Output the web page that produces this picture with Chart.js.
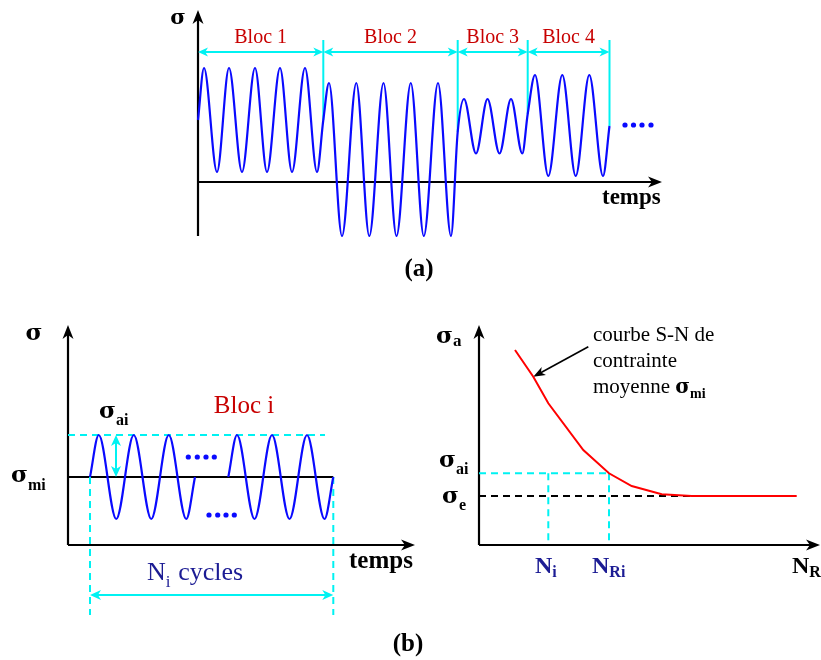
<!DOCTYPE html>
<html><head><meta charset="utf-8">
<script src="https://cdn.jsdelivr.net/npm/chart.js@4"></script>
<style>
html,body{margin:0;padding:0;background:#fff;}
#wrap{position:relative;width:821px;height:660px;overflow:hidden;background:#fff;}
canvas{position:absolute;left:0;top:0;}
</style></head><body>
<div id="wrap">
<canvas id="ca" width="821" height="660"></canvas>
<canvas id="cb" width="821" height="660"></canvas>
<canvas id="cc" width="821" height="660"></canvas>
</div>
<script>
// ---------- Panel (a): block loading (time t from σ axis, stress σ from time axis) ----------
const bloc1Time   = [0, 6, 19, 31, 44, 57, 69, 82, 94, 107, 119];
const bloc1Stress = [62, 114, 10, 114, 10, 114, 10, 114, 10, 114, 10];
const bloc2Time   = [125.3, 131, 144, 158.3, 171.3, 185.5, 198.5, 212.8, 225.8, 240, 253];
const bloc2Stress = [62, 99, -54, 99, -54, 99, -54, 99, -54, 99, -54];
const bloc3Time   = [259.7, 266, 278, 289.5, 301.5, 313, 324.3];
const bloc3Stress = [50, 83, 28.5, 83, 28.5, 83, 28.5];
const bloc4Time   = [329.7, 337, 350.3, 364.3, 377.7, 391.3, 405, 411.5];
const bloc4Stress = [68, 107, 6, 107, 6, 107, 6, 56];
const blocBounds  = [0, 125.3, 259.7, 329.7, 411.5];
const blocBoundStress = [62, 62, 50, 68, 56];
const blocLabels  = ['Bloc 1', 'Bloc 2', 'Bloc 3', 'Bloc 4'];
const moreTime    = [427, 435.5, 444, 453];
const moreStress  = [57, 57, 57, 57];
const axisA = {tMax: 464, sMin: -54, sMax: 172};

// ---------- Panel (b) left: one block i ----------
const blocIPart1Time   = [22, 30.75, 48.25, 65.75, 83.25, 100.75, 118.25, 127];
const blocIPart1Stress = [68, 110, 26, 110, 26, 110, 26, 68];
const blocIPart2Time   = [160.3, 169, 186.5, 204, 221.5, 239, 256.5, 265.3];
const blocIPart2Stress = [68, 110, 26, 110, 26, 110, 26, 68];
const sigmaMi = 68;
const sigmaMaxI = 110;
const dotsUpTime = [120.3, 129.3, 138, 146.3];
const dotsUpStress = [88, 88, 88, 88];
const dotsLowTime = [141, 149.7, 158, 166.3];
const dotsLowStress = [30, 30, 30, 30];
const axisB = {tMax: 347, sMax: 220};

// ---------- Panel (b) right: S-N curve ----------
const snCycles = [36, 54.3, 69.3, 104.3, 130, 152.7, 182.7, 212.7, 317.7];
const snStress = [195, 168.3, 141.7, 95, 71.7, 59, 50.7, 49, 49];
const sigmaE = 49;
const sigmaAi = 71.7;
const cyclesNi = 69.3;
const cyclesNRi = 130;
const axisC = {nMax: 341, sMax: 220};

const BLUE = '#0a0aff', CYAN = '#00f2f2', RED = '#ff0000', DARKRED = '#c80000', NAVY = '#1c1c94';
const SERIF = '"Liberation Serif", "DejaVu Serif", serif';
const GREEK = '"DejaVu Serif", "Liberation Serif", serif';

function zip(a, b) { return a.map((v, i) => ({x: v, y: b[i]})); }

function seg(ctx, x1, y1, x2, y2, color, w, dash) {
  ctx.save(); ctx.strokeStyle = color; ctx.lineWidth = w; ctx.setLineDash(dash || []);
  ctx.beginPath(); ctx.moveTo(x1, y1); ctx.lineTo(x2, y2); ctx.stroke(); ctx.restore();
}
function head(ctx, x, y, ang, len, half, color) {
  ctx.save(); ctx.translate(x, y); ctx.rotate(ang);
  ctx.beginPath(); ctx.moveTo(0, 0); ctx.lineTo(-len, -half); ctx.lineTo(-len * 0.72, 0); ctx.lineTo(-len, half);
  ctx.closePath(); ctx.fillStyle = color; ctx.fill(); ctx.restore();
}
function arrow(ctx, x1, y1, x2, y2, color, w, len, half, both) {
  const a = Math.atan2(y2 - y1, x2 - x1), c = Math.cos(a), s = Math.sin(a);
  const k = len * 0.7;
  seg(ctx, x1 + (both ? c * k : 0), y1 + (both ? s * k : 0), x2 - c * k, y2 - s * k, color, w);
  head(ctx, x2, y2, a, len, half, color);
  if (both) head(ctx, x1, y1, a + Math.PI, len, half, color);
}
function txt(ctx, s, x, y, font, color, align) {
  ctx.save(); ctx.font = font; ctx.fillStyle = color; ctx.textAlign = align || 'left';
  ctx.textBaseline = 'alphabetic'; ctx.fillText(s, x, y); ctx.restore();
}
function subTxt(ctx, main, sub, x, y, fMain, fSub, color, dy) {
  ctx.save(); ctx.font = fMain; const w = ctx.measureText(main).width; ctx.restore();
  txt(ctx, main, x, y, fMain, color); txt(ctx, sub, x + w, y + dy, fSub, color);
}

function baseOptions(pad, xr, yr) {
  return {
    responsive: false, animation: false, events: [],
    layout: {padding: pad},
    plugins: {legend: {display: false}, tooltip: {enabled: false}},
    scales: {
      x: {type: 'linear', min: xr[0], max: xr[1], display: false},
      y: {type: 'linear', min: yr[0], max: yr[1], display: false}
    }
  };
}
function waveDs(data, color) {
  return {data, borderColor: color, borderWidth: 2.2, pointRadius: 0, fill: false,
          cubicInterpolationMode: 'monotone', clip: false};
}
function dotDs(data) {
  return {data, showLine: false, pointRadius: 2.6, pointBackgroundColor: BLUE, pointBorderWidth: 0, clip: false};
}

// ---------- Chart (a) ----------
new Chart(document.getElementById('ca'), {
  type: 'line',
  data: {datasets: [
    waveDs(zip(bloc1Time, bloc1Stress).concat(zip(bloc2Time, bloc2Stress), zip(bloc3Time, bloc3Stress), zip(bloc4Time, bloc4Stress)), BLUE),
    dotDs(zip(moreTime, moreStress))
  ]},
  options: baseOptions({left: 198, top: 10, right: 821 - 662, bottom: 660 - 236}, [0, axisA.tMax], [axisA.sMin, axisA.sMax]),
  plugins: [{
    id: 'decorA',
    beforeDatasetsDraw(chart) {
      const ctx = chart.ctx, X = v => chart.scales.x.getPixelForValue(v), Y = v => chart.scales.y.getPixelForValue(v);
      arrow(ctx, X(0), Y(axisA.sMin), X(0), Y(axisA.sMax), '#000', 2.2, 14, 5.5);
      arrow(ctx, X(0), Y(0), X(axisA.tMax), Y(0), '#000', 2.2, 14, 5.5);
      const topS = 142, arrS = 130;
      for (let i = 1; i < blocBounds.length; i++) {
        seg(ctx, X(blocBounds[i]), Y(topS), X(blocBounds[i]), Y(blocBoundStress[i]), CYAN, 2);
      }
      for (let i = 0; i < blocBounds.length - 1; i++) {
        arrow(ctx, X(blocBounds[i]), Y(arrS), X(blocBounds[i + 1]), Y(arrS), CYAN, 2, 10, 4.5, true);
        txt(ctx, blocLabels[i], (X(blocBounds[i]) + X(blocBounds[i + 1])) / 2, 43, '20px ' + SERIF, DARKRED, 'center');
      }
    },
    afterDraw(chart) {
      const ctx = chart.ctx;
      txt(ctx, 'σ', 178, 24, 'bold 21px ' + GREEK, '#000', 'center');
      txt(ctx, 'temps', 602, 204, 'bold 23px ' + SERIF, '#000');
      txt(ctx, '(a)', 419, 276, 'bold 25px ' + SERIF, '#000', 'center');
    }
  }]
});

// ---------- Chart (b) left ----------
new Chart(document.getElementById('cb'), {
  type: 'line',
  data: {datasets: [
    waveDs(zip(blocIPart1Time, blocIPart1Stress), BLUE),
    waveDs(zip(blocIPart2Time, blocIPart2Stress), BLUE),
    dotDs(zip(dotsUpTime, dotsUpStress)),
    dotDs(zip(dotsLowTime, dotsLowStress))
  ]},
  options: baseOptions({left: 68, top: 325, right: 821 - 415, bottom: 660 - 545}, [0, axisB.tMax], [0, axisB.sMax]),
  plugins: [{
    id: 'decorB',
    beforeDatasetsDraw(chart) {
      const ctx = chart.ctx, X = v => chart.scales.x.getPixelForValue(v), Y = v => chart.scales.y.getPixelForValue(v);
      const t0 = blocIPart1Time[0], t1 = blocIPart2Time[blocIPart2Time.length - 1];
      arrow(ctx, X(0), Y(0), X(0), Y(axisB.sMax), '#000', 2.2, 14, 5.5);
      arrow(ctx, X(0), Y(0), X(axisB.tMax), Y(0), '#000', 2.2, 14, 5.5);
      seg(ctx, X(0), Y(sigmaMi), X(t1), Y(sigmaMi), '#000', 2.2);
      seg(ctx, X(0), Y(sigmaMaxI), X(257), Y(sigmaMaxI), CYAN, 2, [7, 5]);
      seg(ctx, X(t0), Y(sigmaMi), X(t0), Y(-70), CYAN, 2, [7, 5]);
      seg(ctx, X(t1), Y(sigmaMi), X(t1), Y(-70), CYAN, 2, [7, 5]);
      arrow(ctx, X(t0), Y(-50), X(t1), Y(-50), CYAN, 2, 11, 5, true);
      arrow(ctx, X(48), Y(sigmaMi), X(48), Y(sigmaMaxI), CYAN, 2, 11, 5, true);
    },
    afterDraw(chart) {
      const ctx = chart.ctx;
      txt(ctx, 'σ', 34, 340, 'bold 23px ' + GREEK, '#000', 'center');
      subTxt(ctx, 'σ', 'ai', 99, 418, 'bold 23px ' + GREEK, 'bold 16px ' + SERIF, '#000', 7);
      subTxt(ctx, 'σ', 'mi', 11, 482, 'bold 23px ' + GREEK, 'bold 16px ' + SERIF, '#000', 8);
      txt(ctx, 'Bloc i', 244, 413, '25px ' + SERIF, DARKRED, 'center');
      txt(ctx, 'temps', 349, 568, 'bold 25px ' + SERIF, '#000');
      subTxt(ctx, 'N', 'i', 147, 580, '26px ' + SERIF, '17px ' + SERIF, NAVY, 7);
      ctx.save(); ctx.font = '26px ' + SERIF; const wN = ctx.measureText('N').width; ctx.restore();
      txt(ctx, ' cycles', 147 + wN + 6, 580, '26px ' + SERIF, NAVY);
      txt(ctx, '(b)', 408, 651, 'bold 25px ' + SERIF, '#000', 'center');
    }
  }]
});

// ---------- Chart (b) right: S-N ----------
new Chart(document.getElementById('cc'), {
  type: 'line',
  data: {datasets: [
    {data: zip(snCycles, snStress), borderColor: RED, borderWidth: 2, pointRadius: 0, tension: 0, fill: false, clip: false}
  ]},
  options: baseOptions({left: 479, top: 325, right: 821 - 820, bottom: 660 - 545}, [0, axisC.nMax], [0, axisC.sMax]),
  plugins: [{
    id: 'decorC',
    beforeDatasetsDraw(chart) {
      const ctx = chart.ctx, X = v => chart.scales.x.getPixelForValue(v), Y = v => chart.scales.y.getPixelForValue(v);
      arrow(ctx, X(0), Y(0), X(0), Y(axisC.sMax), '#000', 2.2, 14, 5.5);
      arrow(ctx, X(0), Y(0), X(axisC.nMax), Y(0), '#000', 2.2, 14, 5.5);
      seg(ctx, X(0), Y(sigmaE), X(213), Y(sigmaE), '#000', 1.8, [7, 5]);
      seg(ctx, X(0), Y(sigmaAi), X(cyclesNRi), Y(sigmaAi), CYAN, 2, [7, 5]);
      seg(ctx, X(cyclesNi), Y(sigmaAi), X(cyclesNi), Y(0), CYAN, 2, [7, 5]);
      seg(ctx, X(cyclesNRi), Y(sigmaAi), X(cyclesNRi), Y(0), CYAN, 2, [7, 5]);
      arrow(ctx, X(109.3), Y(198.3), X(54.3), Y(168.3), '#000', 1.6, 12, 4.5);
    },
    afterDraw(chart) {
      const ctx = chart.ctx;
      subTxt(ctx, 'σ', 'a', 436, 343, 'bold 23px ' + GREEK, 'bold 17px ' + SERIF, '#000', 3);
      txt(ctx, 'courbe S-N de', 593, 341, '21px ' + SERIF, '#000');
      txt(ctx, 'contrainte', 593, 367, '21px ' + SERIF, '#000');
      ctx.save(); ctx.font = '21px ' + SERIF; const wm = ctx.measureText('moyenne ').width; ctx.restore();
      txt(ctx, 'moyenne ', 593, 393, '21px ' + SERIF, '#000');
      subTxt(ctx, 'σ', 'mi', 593 + wm, 393, 'bold 20px ' + GREEK, 'bold 14px ' + SERIF, '#000', 5);
      subTxt(ctx, 'σ', 'ai', 439, 467, 'bold 23px ' + GREEK, 'bold 16px ' + SERIF, '#000', 7);
      subTxt(ctx, 'σ', 'e', 442, 503, 'bold 23px ' + GREEK, 'bold 16px ' + SERIF, '#000', 7);
      subTxt(ctx, 'N', 'i', 535, 573, 'bold 24px ' + SERIF, 'bold 16px ' + SERIF, NAVY, 4);
      subTxt(ctx, 'N', 'Ri', 592, 573, 'bold 24px ' + SERIF, 'bold 16px ' + SERIF, NAVY, 4);
      subTxt(ctx, 'N', 'R', 792, 573, 'bold 24px ' + SERIF, 'bold 16px ' + SERIF, '#000', 4);
    }
  }]
});
</script>
</body></html>
